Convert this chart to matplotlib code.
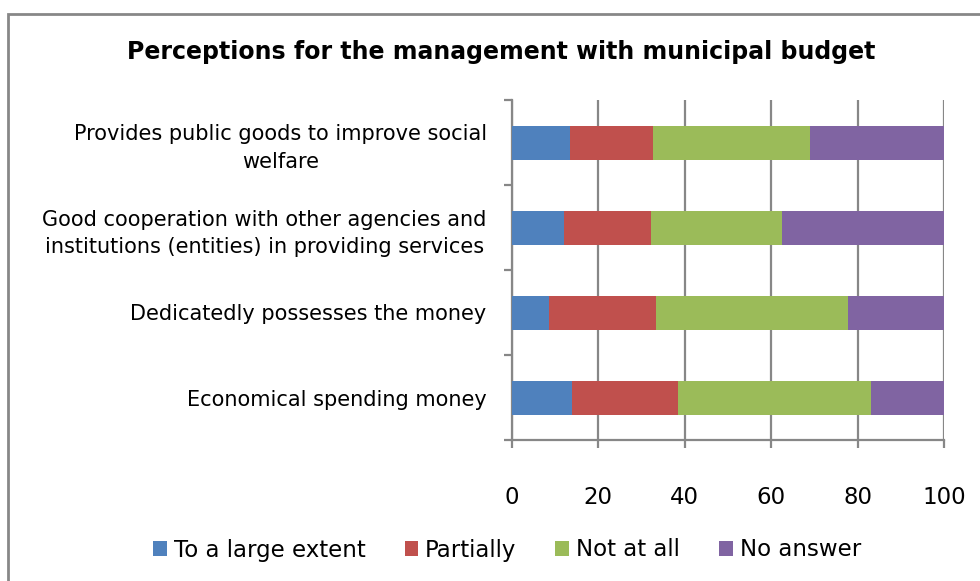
import numpy as np
import matplotlib.pyplot as plt
from matplotlib.patches import Rectangle

# categories from bottom to top
items = ['Economical spending money',
         'Dedicatedly possesses the money',
         'Good cooperation with other agencies and\ninstitutions (entities) in providing services',
         'Provides public goods to improve social\nwelfare']
answers = ['To a large extent', 'Partially', 'Not at all', 'No answer']

large_extent = [13.9, 8.7, 12.0, 13.4]
partially = [24.6, 24.7, 20.2, 19.3]
not_at_all = [44.7, 44.4, 30.3, 36.3]
no_answer = [16.8, 22.2, 37.5, 31.0]

colors = ['#4F81BD', '#C0504D', '#9BBB59', '#8064A2']
grey = '#878787'

fig = plt.figure(figsize=(9.8, 5.81), dpi=100)
ax = fig.add_axes([511.7 / 980, 1 - 440 / 581, 432.3 / 980, 340 / 581])

y = np.arange(len(items))
left = np.zeros(len(items))
for vals, name, c in zip([large_extent, partially, not_at_all, no_answer], answers, colors):
    ax.barh(y, vals, height=0.4, left=left, color=c, label=name, zorder=3)
    left += np.array(vals)

ax.set_xlim(0, 100)
ax.set_ylim(-0.5, len(items) - 0.5)
ax.set_xticks(range(0, 101, 20))
ax.set_yticks(y)
ax.set_yticklabels(items, multialignment='center', linespacing=1.45)
ax.set_yticks(np.arange(-0.5, len(items)), minor=True)

ax.xaxis.grid(True, color=grey, lw=1.6, zorder=0)
ax.set_axisbelow(True)
for s in ['top', 'right']:
    ax.spines[s].set_visible(False)
for s in ['left', 'bottom']:
    ax.spines[s].set_color(grey)
    ax.spines[s].set_linewidth(1.6)

ax.tick_params(axis='y', which='major', length=0, pad=18, labelsize=15)
ax.tick_params(axis='y', which='minor', length=6, width=1.6, color=grey, direction='out')
ax.tick_params(axis='x', length=6, width=1.6, color=grey, pad=27, labelsize=16.5)

fig.text(501 / 980, 1 - 52 / 581, 'Perceptions for the management with municipal budget',
         ha='center', va='center', fontsize=17, fontweight='bold')

fig.legend(loc='center', bbox_to_anchor=(507 / 980, 1 - 550 / 581), ncol=4, frameon=False,
           fontsize=16.5, handlelength=0.6, handleheight=0.6, handletextpad=0.3, columnspacing=1.7)

fig.add_artist(Rectangle((8 / 980, -0.1), 1.2, 1 - 14 / 581 + 0.1, transform=fig.transFigure,
                         fill=False, edgecolor=grey, lw=2))

fig.savefig('out.png', dpi=100)
